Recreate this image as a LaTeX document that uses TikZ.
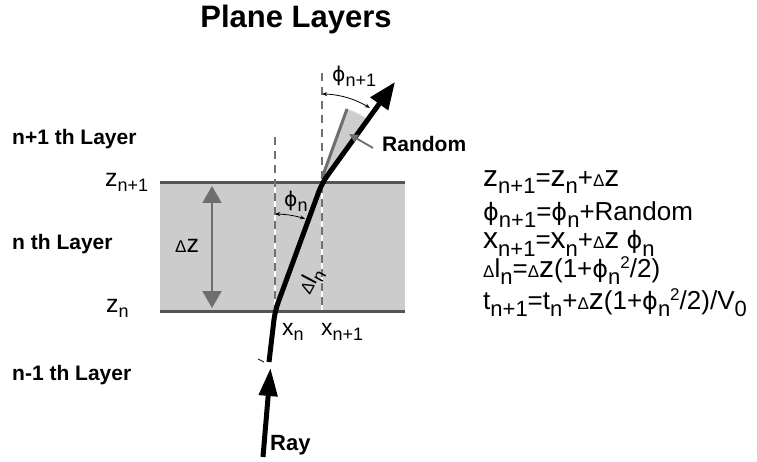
\documentclass[tikz,border=0pt]{standalone}
\usepackage{fontspec}
\setmainfont{Liberation Sans}
\newfontfamily\dejavu[Scale=0.92]{DejaVu Sans}
\usetikzlibrary{arrows.meta}
\definecolor{bandgray}{HTML}{CCCCCC}
\definecolor{edgegray}{HTML}{555555}
\definecolor{dashgray}{HTML}{707070}
\definecolor{midgray}{HTML}{6E6E6E}
\definecolor{wedgegray}{HTML}{CDCDCD}
\newcommand\fs[1]{\fontsize{#1}{#1}\selectfont}
\newcommand\ph{{\dejavu ϕ}}
\newcommand\bz{{\fs{30}z}}
\newcommand\bx{{\fs{30}x}}
\newcommand\esub[1]{\raisebox{-7pt}{\fs{22}#1}}
\newcommand\esup[1]{\raisebox{9pt}{\fs{17}#1}}
\newcommand\edl{{\fs{17}Δ}}
\newcommand\ldl{{\fs{17}Δ}}
\newcommand\lsub[1]{\raisebox{-5pt}{\fs{18}#1}}
\begin{document}
\begin{tikzpicture}[x=1pt,y=-1pt,
  lab/.style={inner sep=0pt,anchor=base west},
  boldlab/.style={lab,font=\fs{21}\bfseries},
  eqn/.style={lab,font=\fs{26}},
  figlab/.style={lab,font=\fs{23}},
  dashline/.style={dashgray,line width=1.4pt,dash pattern=on 8pt off 6pt},
  gapline/.style={white,line width=1.4pt},
  edgeline/.style={edgegray,line width=3pt},
  ray/.style={black,line width=5pt},
  anglearc/.style={black,line width=0.8pt,{Stealth[length=5pt,width=4pt]}-{Stealth[length=5pt,width=4pt]}},
  grayarrow/.style={midgray,line width=2pt}]
\useasboundingbox (0,0) rectangle (757,462);

% title
\node[inner sep=0pt,anchor=base,font=\fs{31}\bfseries] (title) at (296,28) {Plane Layers};

% layer band
\coordinate (bl) at (160,311);
\coordinate (tr) at (405,183);
\coordinate (tl) at (160,183);
\coordinate (br) at (405,311);
\fill[bandgray] (bl) rectangle (tr);
\draw[edgeline] (tl) -- (tr);
\draw[edgeline] (bl) -- (br);

% dashed verticals
\coordinate (d1t) at (275,137);
\coordinate (d1b) at (275,310);
\coordinate (d2t) at (322,73);
\coordinate (d2b) at (322,310);
\draw[gapline] (275,185) -- (d1b);
\draw[gapline] (322,185) -- (d2b);
\draw[dashline] (d1t) -- (d1b);
\draw[dashline] (d2t) -- (d2b);

% random wedge
\coordinate (A) at (322,183);
\coordinate (B) at (275,311);
\fill[wedgegray] (A) -- plot[domain=-71.3:-54.1,samples=20] ({322+78*cos(\x)},{183+78*sin(\x)}) -- cycle;
\draw[white!75!gray,line width=1pt] plot[domain=-71.3:-54.1,samples=20] ({322+78*cos(\x)},{183+78*sin(\x)});
\coordinate (G) at (347,109);
\draw[midgray,line width=3pt] (322,178) -- (G);

% delta z arrow
\coordinate (dzt) at (212,186);
\coordinate (dzb) at (212,308);
\draw[grayarrow,{Triangle[length=17pt,width=19pt]}-{Triangle[length=17pt,width=19pt]}] (dzt) -- (dzb);

% ray
\coordinate (r0) at (263,457);
\coordinate (r1) at (270.5,368);
\coordinate (r2) at (269,362);
\coordinate (r5) at (395,82);
\draw[ray,-{Triangle[length=28pt,width=18pt]}] (r0) -- (r1);
\draw[ray,rounded corners=9pt,-{Triangle[length=27pt,width=21pt]}] (r2) -- (B) -- (A) -- (r5);
\coordinate (k1) at (258,359);
\coordinate (k2) at (264,362);
\draw[line width=0.8pt] (k1) -- (k2);

% angle arcs
\draw[anglearc] plot[domain=-90:-57.5,samples=30] ({322+89*cos(\x)},{183+89*sin(\x)});
\draw[anglearc] plot[domain=-90:-72,samples=30] ({275+97*cos(\x)},{311+97*sin(\x)});

% random pointer
\node[boldlab] (rnd) at (382,152) {Random};
\coordinate (rp) at (373,148);
\coordinate (rq) at (349,134);
\draw[grayarrow,line width=1.8pt,-{Triangle[length=9pt,width=8pt]}] (rp) -- (rq);

% figure labels
\node[lab,font=\fs{22}] (phin1) at (332,82) {\ph\lsub{n+1}};
\node[lab,font=\fs{22}] (phin) at (284,207) {\ph\lsub{n}};
\node[lab,font=\fs{25}] (dz) at (175,252) {\ldl z};
\node[lab,font=\fs{23},rotate=62,anchor=center] (dln) at (311,281) {\ldl l\lsub{n}};
\node[figlab] (xn) at (282,335) {x\lsub{n}};
\node[figlab] (xn1) at (321,335) {x\lsub{n+1}};
\node[lab,font=\fs{25}] (zn1) at (105,187) {z\lsub{n+1}};
\node[lab,font=\fs{25}] (zn) at (106,312) {z\lsub{n}};

% layer names
\node[boldlab] (l1) at (12,145) {n+1 th Layer};
\node[boldlab] (l2) at (12,250) {n th Layer};
\node[boldlab] (l3) at (12,380) {n-1 th Layer};
\node[inner sep=0pt,anchor=base west,font=\fs{22}\bfseries] (ray) at (270,450) {Ray};

% equations
\node[eqn] (e1) at (483,187) {\bz\esub{n+1}=\bz\esub{n}+\edl\bz};
\node[eqn] (e2) at (483,221) {\ph\esub{n+1}=\ph\esub{n}+Random};
\node[eqn] (e3) at (483,249) {\bx\esub{n+1}=\bx\esub{n}+\edl\bz{} \ph\esub{n}};
\node[eqn] (e4) at (483,277) {\edl l\esub{n}=\edl\bz(1+\ph\esub{n}\esup{2}/2)};
\node[eqn] (e5) at (483,309) {t\esub{n+1}=t\esub{n}+\edl\bz(1+\ph\esub{n}\esup{2}/2)/V\esub{0}};
\end{tikzpicture}
\end{document}
